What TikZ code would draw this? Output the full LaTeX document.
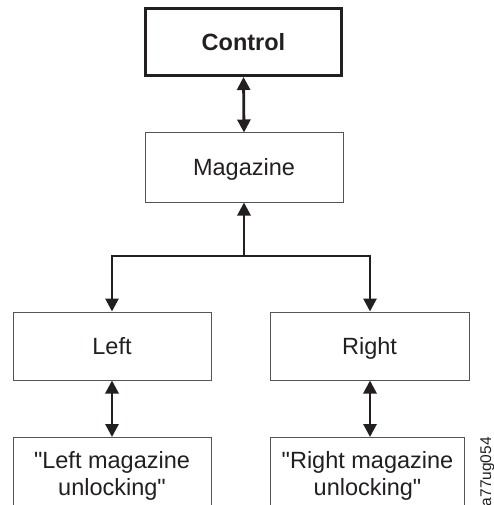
\documentclass[tikz,border=0pt]{standalone}
\usepackage{fontspec}
\setmainfont{Liberation Sans}[Ligatures=TeXOff]
\usetikzlibrary{arrows.meta}
\definecolor{ink}{HTML}{231F20}
\definecolor{edge}{HTML}{555555}
\begin{document}
\begin{tikzpicture}[x=1pt,y=1pt,
  box/.style={draw=edge, line width=1pt, fill=white, inner sep=0pt,
    text height=16.8pt, text depth=0pt,
    font=\fontsize{23.5}{27}\selectfont},
  boldbox/.style={draw=ink, line width=3pt, fill=white, inner sep=0pt,
    text height=16.8pt, text depth=0pt,
    font=\fontsize{23.5}{27}\selectfont\bfseries},
  lbl/.style={align=center, inner sep=0pt, text=ink,
    font=\fontsize{23.5}{27}\selectfont},
  arr/.style={draw=ink, line width=2.8pt,
    -{Triangle[width=13pt,length=13pt]}},
  darr/.style={draw=ink, line width=2.8pt,
    {Triangle[width=13pt,length=13pt]}-{Triangle[width=13pt,length=13pt]}},
  tag/.style={inner sep=0pt, text=ink, font=\fontsize{15.5}{18}\selectfont}
]
\useasboundingbox (0,0) rectangle (493,-505);
\clip (0,0) rectangle (493,-505);

\node[boldbox, minimum width=196pt, minimum height=67pt, text=ink] (ctrl) at (243.5,-42) {Control};
\node[box, minimum width=198pt, minimum height=69pt, text=ink] (mag) at (244,-167.5) {Magazine};
\node[box, minimum width=198pt, minimum height=68pt, text=ink] (left) at (112,-346) {Left};
\node[box, minimum width=199pt, minimum height=68pt, text=ink] (right) at (369.5,-346) {Right};
\node[box, minimum width=198pt, minimum height=100pt, anchor=north] (lml) at (112,-437) {};
\node[box, minimum width=194pt, minimum height=100pt, anchor=north] (rml) at (367.5,-437) {};
\node[lbl, anchor=base] (lmltext) at (112,-495) {"Left magazine\\unlocking"};
\node[lbl, anchor=base] (rmltext) at (367.5,-495) {"Right magazine\\unlocking"};
\node[tag, rotate=90, anchor=base east] (code) at (491,-437) {a77ug054};

\coordinate (jn) at (244,-256);
\draw[darr] (ctrl.south) -- (mag.north);
\draw[arr] (jn) -- (mag.south);
\draw[arr] (jn) -| (left.north);
\draw[arr] (jn) -| ([xshift=0.5pt]right.north);
\draw[darr] (left.south) -- (lml.north);
\draw[darr] ([xshift=0.5pt]right.south) -- ([xshift=2.5pt]rml.north);
\end{tikzpicture}
\end{document}
